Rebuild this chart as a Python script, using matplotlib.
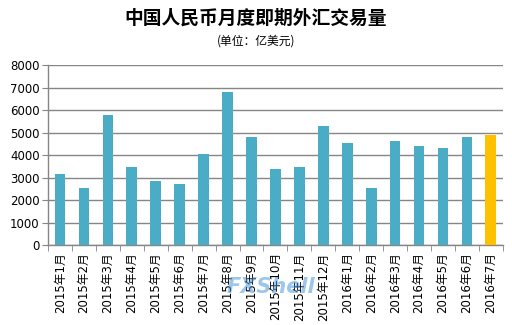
import matplotlib
matplotlib.use("Agg")
import matplotlib.pyplot as plt
import numpy as np

plt.rcParams['font.family'] = ['Noto Sans CJK SC', 'DejaVu Sans']

months = ["2015年1月", "2015年2月", "2015年3月", "2015年4月", "2015年5月", "2015年6月",
          "2015年7月", "2015年8月", "2015年9月", "2015年10月", "2015年11月", "2015年12月",
          "2016年1月", "2016年2月", "2016年3月", "2016年4月", "2016年5月", "2016年6月",
          "2016年7月"]
volume = [3180, 2560, 5800, 3490, 2870, 2740, 4070, 6820, 4820, 3390, 3480, 5300,
          4550, 2550, 4630, 4410, 4320, 4810, 4900]

base_color = "#4BACC6"
latest_color = "#FFC000"
colors = [base_color] * (len(volume) - 1) + [latest_color]

label_family = ['DejaVu Sans', 'Noto Sans CJK SC']

fig = plt.figure(figsize=(5.12, 3.25), dpi=100)
ax = fig.add_axes([0.094, 0.245, 0.888, 0.554])

x = np.arange(len(months))
ax.bar(x, volume, width=0.45, color=colors, zorder=3)

ax.set_xlim(-0.5, len(months) - 0.5)
ax.set_ylim(0, 8000)
ax.set_yticks(np.arange(0, 8001, 1000))
ax.yaxis.grid(True, color="#868686", linewidth=1.0, zorder=0)
ax.tick_params(axis='y', labelsize=8.5, length=4, color="#868686", pad=2)
for lbl in ax.get_yticklabels():
    lbl.set_family(label_family)

ax.set_xticks(x)
ax.set_xticklabels(months, rotation=90, fontsize=8.5, family=label_family)
ax.set_xticks(np.arange(-0.5, len(months), 1), minor=True)
ax.tick_params(axis='x', which='major', length=0, pad=5)
ax.tick_params(axis='x', which='minor', length=4, color="#868686")

for side in ("top", "right"):
    ax.spines[side].set_visible(False)
for side in ("left", "bottom"):
    ax.spines[side].set_color("#868686")
    ax.spines[side].set_linewidth(1.0)

fig.text(0.5, 0.945, "中国人民币月度即期外汇交易量", ha="center", va="center",
         fontsize=13.5, fontweight="bold")
fig.text(0.5, 0.873, "(单位：亿美元)", ha="center", va="center", fontsize=8.5)

fig.text(0.53, 0.117, "FXShell", ha="center", va="center", fontsize=15,
         fontstyle="italic", fontweight="bold", color="#3A8FD8", alpha=0.5,
         family="DejaVu Sans")

fig.savefig("out.png", dpi=100)
